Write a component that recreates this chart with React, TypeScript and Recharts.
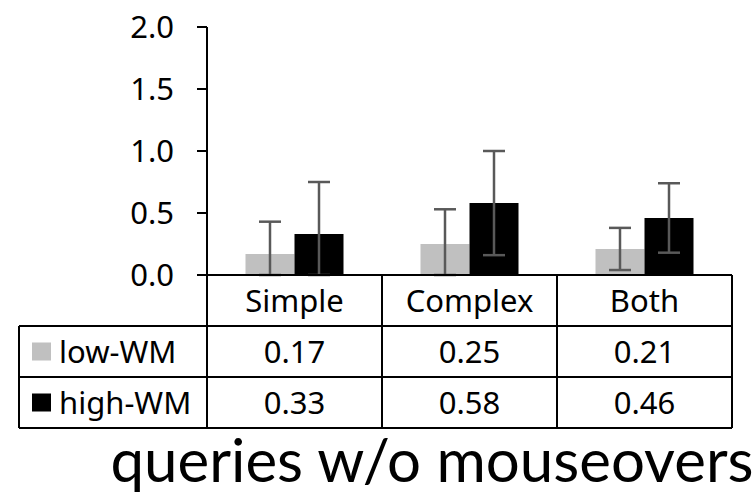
import { BarChart, Bar, XAxis, YAxis, ErrorBar } from "recharts";

const CATEGORIES = ["Simple", "Complex", "Both"];
const LOW_WM = [0.17, 0.25, 0.21];
const HIGH_WM = [0.33, 0.58, 0.46];
const LOW_WM_ERR = [0.26, 0.28, 0.17];
const HIGH_WM_ERR = [0.42, 0.42, 0.28];
const Y_TICKS = [0, 0.5, 1, 1.5, 2];
const SERIES_NAMES = ["low-WM", "high-WM"];
const SERIES_COLORS = ["#c0c0c0", "#000000"];
const TITLE = "queries w/o mouseovers";

const FONT = "'Noto Sans', sans-serif";
const ROW_H = 51;
const LEGEND_LEFT = 19;

const data = CATEGORIES.map((c, i) => ({
  category: c,
  low: LOW_WM[i],
  high: HIGH_WM[i],
  lowErr: LOW_WM_ERR[i],
  highErr: HIGH_WM_ERR[i],
}));

// data table drawn under the x axis, one column per tick
function TableTick(props: any) {
  const { x, y, payload, index, width, visibleTicksCount } = props;
  const half = payload?.offset || width / visibleTicksCount / 2;
  const row = data[index];
  const l = x - half;
  const r = x + half;
  const ln = { stroke: "#000", strokeWidth: 2 };
  const ys = [y, y + ROW_H, y + 2 * ROW_H, y + 3 * ROW_H];
  const txt = { fontFamily: FONT, fontSize: 31, fill: "#000" };
  const vals = [row.low, row.high];
  return (
    <g>
      <line x1={r} y1={y} x2={r} y2={ys[3]} {...ln} />
      {[1, 2, 3].map(k => (
        <line key={k} x1={index === 0 ? LEGEND_LEFT : l} y1={ys[k]} x2={r} y2={ys[k]} {...ln} />
      ))}
      <text x={x} y={(ys[0] + ys[1]) / 2} dy="0.36em" textAnchor="middle" {...txt}>
        {payload.value}
      </text>
      {vals.map((v, k) => (
        <text key={k} x={x} y={(ys[k + 1] + ys[k + 2]) / 2} dy="0.36em" textAnchor="middle" {...txt}>
          {v.toFixed(2)}
        </text>
      ))}
      {index === 0 && (
        <g>
          <line x1={l} y1={y} x2={l} y2={ys[3]} {...ln} />
          <line x1={LEGEND_LEFT} y1={ys[1]} x2={LEGEND_LEFT} y2={ys[3]} {...ln} />
          {SERIES_NAMES.map((name, k) => {
            const cy = (ys[k + 1] + ys[k + 2]) / 2;
            return (
              <g key={name}>
                <rect x={LEGEND_LEFT + 13} y={cy - 9} width={19} height={18} fill={SERIES_COLORS[k]} />
                <text x={LEGEND_LEFT + 40} y={cy} dy="0.36em" textAnchor="start" {...txt}>
                  {name}
                </text>
              </g>
            );
          })}
        </g>
      )}
    </g>
  );
}

export default function App() {
  return (
    <div style={{ position: "absolute", left: 0, top: 0, width: 753, height: 502, background: "#fff" }}>
      <BarChart
        width={753}
        height={502}
        data={data}
        margin={{ top: 27, right: 21, bottom: 75, left: 0 }}
        barCategoryGap="22%"
        barGap={0}
      >
        <XAxis
          dataKey="category"
          height={152}
          interval={0}
          tickSize={0}
          tickMargin={0}
          tickLine={false}
          axisLine={{ stroke: "#000", strokeWidth: 2 }}
          tick={<TableTick />}
        />
        <YAxis
          domain={[0, 2]}
          ticks={Y_TICKS}
          interval={0}
          width={207}
          tickSize={10}
          tickMargin={23}
          tickFormatter={(v: number) => v.toFixed(1)}
          axisLine={{ stroke: "#000", strokeWidth: 2 }}
          tickLine={{ stroke: "#000", strokeWidth: 2 }}
          tick={{ fill: "#000", fontSize: 31, fontFamily: FONT }}
        />
        <Bar dataKey="low" name={SERIES_NAMES[0]} fill={SERIES_COLORS[0]} isAnimationActive={false}>
          <ErrorBar
            dataKey={(d: any) => [Math.min(d.lowErr, d.low), d.lowErr]}
            width={11}
            strokeWidth={2.5}
            stroke="#595959"
          />
        </Bar>
        <Bar dataKey="high" name={SERIES_NAMES[1]} fill={SERIES_COLORS[1]} isAnimationActive={false}>
          <ErrorBar
            dataKey={(d: any) => [Math.min(d.highErr, d.high), d.highErr]}
            width={11}
            strokeWidth={2.5}
            stroke="#595959"
          />
        </Bar>
      </BarChart>
      <svg width={753} height={502} style={{ position: "absolute", left: 0, top: 0, pointerEvents: "none" }}>
        <text x={432} y={482} textAnchor="middle" fontFamily="Lato, sans-serif" fontSize={60} fill="#000">
          {TITLE}
        </text>
      </svg>
    </div>
  );
}
